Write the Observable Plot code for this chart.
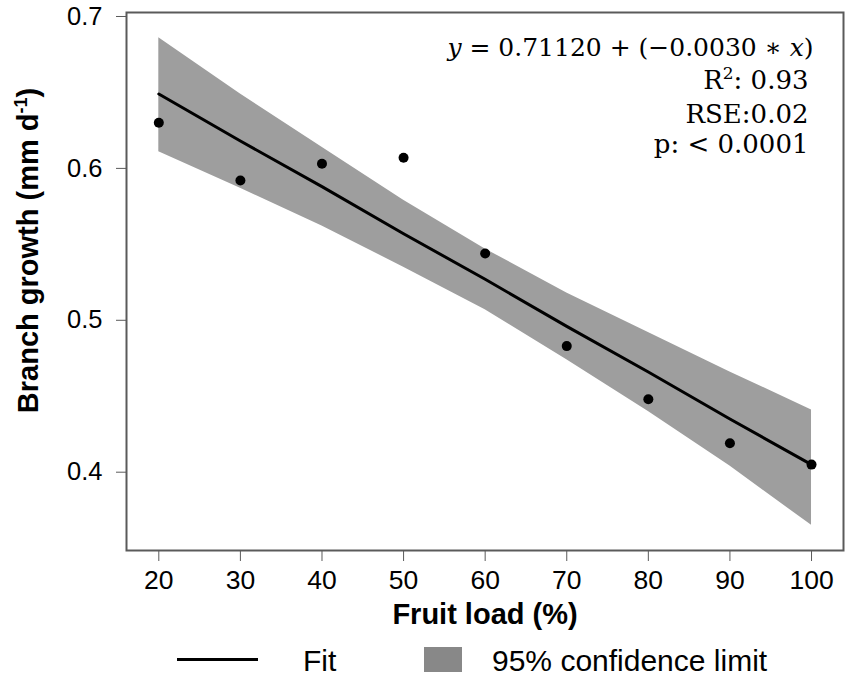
<!DOCTYPE html>
<html>
<head>
<meta charset="utf-8">
<script src="https://cdn.jsdelivr.net/npm/d3@7"></script>
<script src="https://cdn.jsdelivr.net/npm/@observablehq/plot@0.6"></script>
<style>
  html, body { margin: 0; padding: 0; background: #fff; }
  #chart { width: 851px; }
  #chart g[aria-label="x-axis tick label"] { font-size: 26.5px; }
  #chart g[aria-label="y-axis tick label"] { font-size: 25.5px; }
  #legend { position: relative; width: 851px; height: 48px; font-family: "Liberation Sans", Arial, sans-serif; font-size: 30px; color: #000; }
  #legend .line { position: absolute; left: 177px; top: 27.5px; width: 81px; height: 3px; background: #000; }
  #legend .swatch { position: absolute; left: 424px; top: 17px; width: 38px; height: 25px; background: #888; }
  #legend .lab { position: absolute; top: 16px; line-height: 30px; white-space: nowrap; }
</style>
</head>
<body>
<div id="chart"></div>
<div id="legend">
  <div class="line"></div><span class="lab" style="left:303px">Fit</span>
  <div class="swatch"></div><span class="lab" style="left:492px">95% confidence limit</span>
</div>
<script>
// Observed data
const fruitLoad = [20, 30, 40, 50, 60, 70, 80, 90, 100];
const growth    = [0.630, 0.592, 0.603, 0.607, 0.544, 0.483, 0.448, 0.419, 0.405];
// Fitted line and 95% confidence band
const fitValues = [0.649, 0.618, 0.588, 0.557, 0.527, 0.496, 0.466, 0.435, 0.405];
const ciUpper   = [0.686, 0.649, 0.614, 0.579, 0.547, 0.518, 0.492, 0.466, 0.441];
const ciLower   = [0.611, 0.587, 0.562, 0.535, 0.507, 0.474, 0.440, 0.404, 0.365];
// Ticks
const xTicks = [20, 30, 40, 50, 60, 70, 80, 90, 100];
const yTicks = [0.4, 0.5, 0.6, 0.7];
// Texts
const xTitle = "Fruit load (%)";
const yTitle = "Branch growth (mm d-1)";
const eqText = "y = 0.71120 + (−0.0030 ∗ x)";
const r2Text = "R2: 0.93";
const rseText = "RSE:0.02";
const pText = "p: < 0.0001";

const points = fruitLoad.map((x, i) => ({x, y: growth[i]}));
const band = fruitLoad.map((x, i) => ({x, fit: fitValues[i], lo: ciLower[i], hi: ciUpper[i]}));

const sans = "Liberation Sans, Arial, sans-serif";
const serif = "DejaVu Serif, serif";

const chart = Plot.plot({
  width: 851,
  height: 630,
  marginLeft: 126,
  marginRight: 8,
  marginTop: 12,
  marginBottom: 80,
  style: {fontFamily: sans, fontSize: "26px", color: "#000", background: "#fff"},
  x: {domain: [16.04, 103.92]},
  y: {domain: [0.34845, 0.70263]},
  marks: [
    Plot.areaY(band, {x: "x", y1: "lo", y2: "hi", fill: "#9e9e9e"}),
    Plot.line(band, {x: "x", y: "fit", stroke: "#000", strokeWidth: 3}),
    Plot.dot(points, {x: "x", y: "y", r: 5, fill: "#000", stroke: "none"}),
    Plot.frame({stroke: "#5a5a5a", strokeWidth: 2}),
    Plot.axisX({ticks: xTicks, tickFormat: d => String(d), tickSize: 11, tickPadding: 9, stroke: "#5a5a5a", fill: "#000", label: null}),
    Plot.axisY({ticks: yTicks, tickFormat: d => d.toFixed(1), tickSize: 10, tickPadding: 14, stroke: "#5a5a5a", fill: "#000", label: null}),
    Plot.text([xTitle], {frameAnchor: "bottom", dy: 73, lineAnchor: "bottom", fontWeight: "bold", fontSize: 29, fontFamily: sans, fill: "#000"}),
    Plot.text([yTitle], {frameAnchor: "left", rotate: -90, dx: -89, dy: -31, lineAnchor: "bottom", textAnchor: "middle", fontWeight: "bold", fontSize: 29, fontFamily: sans, fill: "#000"}),
    Plot.text([eqText], {frameAnchor: "top-right", dx: -30, dy: 43, lineAnchor: "bottom", textAnchor: "end", fontFamily: serif, fontSize: 25, fill: "#000"}),
    Plot.text([r2Text], {frameAnchor: "top-right", dx: -35, dy: 76, lineAnchor: "bottom", textAnchor: "end", fontFamily: serif, fontSize: 26, fill: "#000"}),
    Plot.text([rseText], {frameAnchor: "top-right", dx: -35, dy: 110, lineAnchor: "bottom", textAnchor: "end", fontFamily: serif, fontSize: 26, fill: "#000"}),
    Plot.text([pText], {frameAnchor: "top-right", dx: -35, dy: 140, lineAnchor: "bottom", textAnchor: "end", fontFamily: serif, fontSize: 26, fill: "#000"})
  ]
});

// Rich text: superscripts and italics
chart.querySelectorAll("text").forEach(t => {
  const s = t.textContent;
  if (s === yTitle) {
    t.innerHTML = 'Branch growth (mm d<tspan dy="-11" font-size="18">-1</tspan><tspan dy="11">)</tspan>';
  } else if (s === eqText) {
    t.innerHTML = '<tspan font-style="italic">y</tspan> = 0.71120 + (−0.0030 ∗ <tspan font-style="italic">x</tspan>)';
  } else if (s === r2Text) {
    t.innerHTML = 'R<tspan dy="-10" font-size="17">2</tspan><tspan dy="10">: 0.93</tspan>';
  }
});

document.getElementById("chart").appendChild(chart);
</script>
</body>
</html>
